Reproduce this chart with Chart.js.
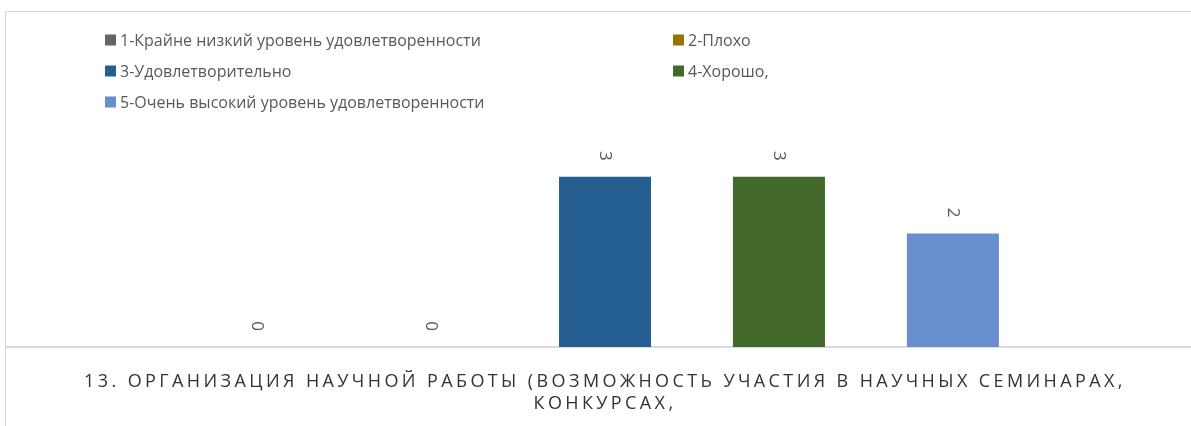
<!DOCTYPE html>
<html>
<head>
<meta charset="utf-8">
<script src="https://cdn.jsdelivr.net/npm/chart.js@4/dist/chart.umd.min.js"></script>
<style>
  html, body { margin: 0; padding: 0; background: #fff; overflow: hidden; width: 1191px; height: 426px; }
  #frame {
    position: absolute; left: 5px; top: 11px;
    width: 1198px; height: 415px;
    border-top: 1px solid #d9d9d9; border-left: 1px solid #d9d9d9;
  }
  #chart { display: block; }
</style>
</head>
<body>
<div id="frame"><canvas id="chart" width="1198" height="414"></canvas></div>
<script>
// category (one question) and the five answer levels
const categories = [['13. ОРГАНИЗАЦИЯ НАУЧНОЙ РАБОТЫ (ВОЗМОЖНОСТЬ УЧАСТИЯ В НАУЧНЫХ СЕМИНАРАХ,', 'КОНКУРСАХ,']];
const seriesLabels = [
    '1-Крайне низкий уровень удовлетворенности',
    '2-Плохо',
    '3-Удовлетворительно',
    '4-Хорошо,',
    '5-Очень высокий уровень удовлетворенности'
];
const seriesValues = [0, 0, 3, 3, 2];
const seriesColors = ['#646464', '#997300', '#255e91', '#43682b', '#698ed0'];

const textGray = '#595959';
const fontFamily = "'Open Sans', 'Noto Sans', sans-serif";

// Legend in two columns, like the office chart (drawn on the canvas)
const gridLegend = {
    id: 'gridLegend',
    afterDraw(chart) {
        const ctx = chart.ctx;
        const colX = [99, 667];
        const rowY = [28, 59, 90];
        ctx.save();
        ctx.font = '16px ' + fontFamily;
        ctx.textBaseline = 'middle';
        ctx.textAlign = 'left';
        chart.data.datasets.forEach((ds, i) => {
            const x = colX[i % 2];
            const y = rowY[Math.floor(i / 2)];
            ctx.fillStyle = ds.backgroundColor;
            ctx.fillRect(x, y - 5.5, 11, 11);
            ctx.fillStyle = textGray;
            ctx.fillText(ds.label, x + 15, y + 1);
        });
        ctx.restore();
    }
};

// Rotated value labels above each bar
const valueLabels = {
    id: 'valueLabels',
    afterDatasetsDraw(chart) {
        const ctx = chart.ctx;
        ctx.save();
        ctx.font = '17px ' + fontFamily;
        ctx.fillStyle = textGray;
        ctx.textAlign = 'center';
        ctx.textBaseline = 'middle';
        chart.data.datasets.forEach((ds, i) => {
            chart.getDatasetMeta(i).data.forEach((bar, j) => {
                ctx.save();
                ctx.translate(bar.x, bar.y - 21);
                ctx.rotate(Math.PI / 2);
                ctx.fillText(String(ds.data[j]), 0, 0);
                ctx.restore();
            });
        });
        ctx.restore();
    }
};

// letter-spaced category caption
const spacedTicks = {
    id: 'spacedTicks',
    beforeDraw(chart) { chart.ctx.letterSpacing = '3.4px'; },
    beforeDatasetsDraw(chart) { chart.ctx.letterSpacing = '0px'; }
};

const ctx = document.getElementById('chart').getContext('2d');
const chart = new Chart(ctx, {
    type: 'bar',
    data: {
        labels: categories,
        datasets: seriesLabels.map((label, i) => ({
            label: label,
            data: [seriesValues[i]],
            backgroundColor: seriesColors[i],
            barPercentage: 0.529,
            categoryPercentage: 0.726
        }))
    },
    options: {
        responsive: false,
        animation: false,
        layout: { padding: { top: 108, left: 0, right: 0, bottom: 0 } },
        plugins: {
            legend: { display: false },
            tooltip: { enabled: false }
        },
        scales: {
            x: {
                grid: { display: false, drawTicks: false },
                border: { display: true, color: '#d9d9d9', width: 2 },
                ticks: {
                    color: '#333333',
                    padding: 24,
                    maxRotation: 0,
                    autoSkip: false,
                    font: { family: fontFamily, size: 18, lineHeight: 1.22 }
                },
                afterFit(scale) { scale.height = 79; }
            },
            y: {
                display: false,
                min: 0,
                max: 4
            }
        }
    },
    plugins: [gridLegend, valueLabels, spacedTicks]
});
</script>
</body>
</html>
